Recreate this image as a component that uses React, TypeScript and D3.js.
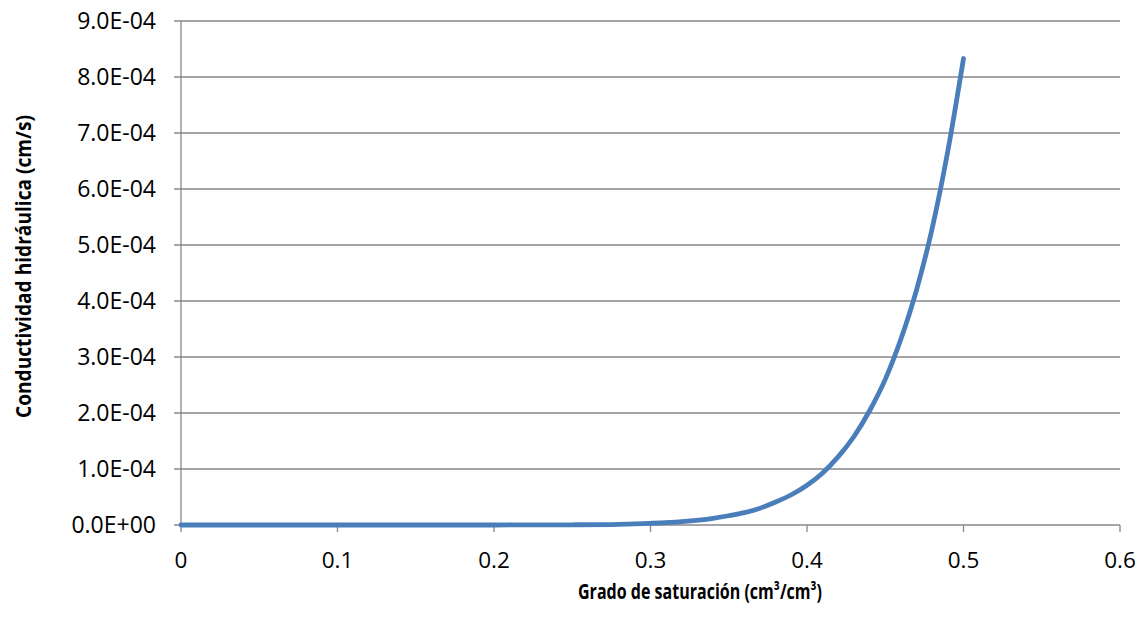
import React from "react";
import * as d3 from "d3";

const saturation = [0, 0.05, 0.1, 0.15, 0.2, 0.25, 0.28, 0.3, 0.32, 0.34, 0.35, 0.36, 0.37, 0.38, 0.39, 0.4, 0.41, 0.42, 0.43, 0.44, 0.45, 0.46, 0.47, 0.48, 0.49, 0.5];
const conductivity = [0, 0, 0, 0, 0.0003e-4, 0.004e-4, 0.012e-4, 0.03e-4, 0.061e-4, 0.12e-4, 0.165e-4, 0.22e-4, 0.3e-4, 0.41e-4, 0.54e-4, 0.71e-4, 0.93e-4, 1.22e-4, 1.58e-4, 2.04e-4, 2.6e-4, 3.32e-4, 4.2e-4, 5.3e-4, 6.68e-4, 8.33e-4];
const xTicks = [0, 0.1, 0.2, 0.3, 0.4, 0.5, 0.6];
const xTickLabels = ["0", "0.1", "0.2", "0.3", "0.4", "0.5", "0.6"];
const yTicks = [0, 1e-4, 2e-4, 3e-4, 4e-4, 5e-4, 6e-4, 7e-4, 8e-4, 9e-4];
const yTickLabels = ["0.0E+00", "1.0E-04", "2.0E-04", "3.0E-04", "4.0E-04", "5.0E-04", "6.0E-04", "7.0E-04", "8.0E-04", "9.0E-04"];
const xTitle = "Grado de saturación (cm³/cm³)";
const yTitle = "Conductividad hidráulica (cm/s)";

const W = 1144;
const H = 618;
const left = 181;
const right = 1120;
const top = 21;
const bottom = 525;

export default function App() {
  const x = d3.scaleLinear().domain([0, 0.6]).range([left, right]);
  const y = d3.scaleLinear().domain([0, 9e-4]).range([bottom, top]);
  const pts: [number, number][] = saturation.map((s, i) => [s, conductivity[i]]);
  const line = d3
    .line<[number, number]>()
    .x((d) => x(d[0]))
    .y((d) => y(d[1]))
    .curve(d3.curveMonotoneX);
  const grid = "#878787";
  const font = "'Open Sans', 'DejaVu Sans', sans-serif";
  const titleFont = "'Liberation Sans Narrow', 'Open Sans', sans-serif";
  return (
    <svg
      width={W}
      height={H}
      style={{ position: "absolute", left: 0, top: 0, background: "#fff" }}
    >
      <rect x={0} y={0} width={W} height={H} fill="#fff" />
      {yTicks.map((t, i) => (
        <g key={"y" + i}>
          <line x1={left - 7} x2={right} y1={y(t)} y2={y(t)} stroke={grid} strokeWidth={1.3} />
          <text
            x={156}
            y={y(t)}
            dy="0.36em"
            textAnchor="end"
            fontFamily={font}
            fontSize={23}
            fill="#000"
          >
            {yTickLabels[i]}
          </text>
        </g>
      ))}
      <line x1={left} x2={left} y1={top} y2={bottom} stroke={grid} strokeWidth={1.3} />
      {xTicks.map((t, i) => (
        <g key={"x" + i}>
          <line x1={x(t)} x2={x(t)} y1={bottom} y2={bottom + 7} stroke={grid} strokeWidth={1.3} />
          <text
            x={x(t)}
            y={568}
            textAnchor="middle"
            fontFamily={font}
            fontSize={22.5}
            fill="#000"
          >
            {xTickLabels[i]}
          </text>
        </g>
      ))}
      <path
        d={line(pts) || ""}
        fill="none"
        stroke="#4a7ebb"
        strokeWidth={4.8}
        strokeLinecap="round"
        strokeLinejoin="round"
      />
      <text
        x={700}
        y={599}
        textAnchor="middle"
        fontFamily={titleFont}
        fontWeight="bold"
        fontSize={21}
        textLength={244}
        lengthAdjust="spacingAndGlyphs"
        fill="#000"
      >
        {xTitle}
      </text>
      <text
        transform={`translate(31,266.5) rotate(-90)`}
        textAnchor="middle"
        fontFamily={titleFont}
        fontWeight="bold"
        fontSize={22}
        textLength={303}
        lengthAdjust="spacingAndGlyphs"
        fill="#000"
      >
        {yTitle}
      </text>
    </svg>
  );
}
